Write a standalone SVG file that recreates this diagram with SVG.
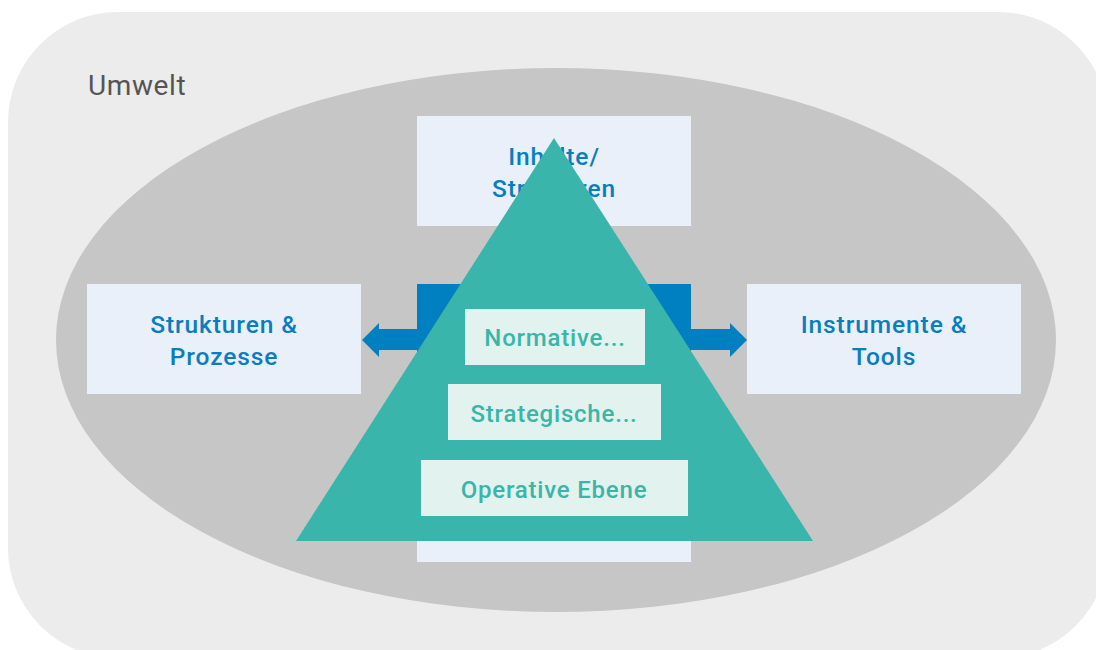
<svg xmlns="http://www.w3.org/2000/svg" width="1096" height="650" viewBox="0 0 1096 650">
<style>
.box{fill:#e9f0fa}
.lvl{fill:#e2f2ef}
.bt{font-family:Roboto,"Liberation Sans",sans-serif;font-size:24.5px;letter-spacing:0.9px;fill:#0a7dc0;text-anchor:middle;font-weight:500}
.tt{font-family:Roboto,"Liberation Sans",sans-serif;font-size:24px;letter-spacing:0.8px;fill:#3ab5a8;text-anchor:middle;font-weight:500}
</style>
<rect x="8" y="12" width="1100" height="646" rx="110" ry="110" fill="#ececec"/>
<text x="88" y="95" font-family="Roboto,'Liberation Sans',sans-serif" font-size="28" letter-spacing="0.6" fill="#555555">Umwelt</text>
<ellipse cx="556" cy="340" rx="500" ry="272" fill="#c6c6c6"/>
<g id="inhalte"><rect class="box" x="417" y="116" width="274" height="110"/><text class="bt" x="554" y="165">Inhalte/</text><text class="bt" x="554" y="197">Strukturen</text></g>
<g id="strukturen"><rect class="box" x="87" y="284" width="274" height="110"/><text class="bt" x="224" y="333">Strukturen &amp;</text><text class="bt" x="224" y="365">Prozesse</text></g>
<g id="instrumente"><rect class="box" x="747" y="284" width="274" height="110"/><text class="bt" x="884" y="333">Instrumente &amp;</text><text class="bt" x="884" y="365">Tools</text></g>
<g id="unten"><rect class="box" x="417" y="452" width="274" height="110"/></g>
<g id="connectors"><path d="M417 284 H691 V329 H730 V323 L747 340 L730 357 V350 H691 V400 H417 V350 H379 V357 L362 340 L379 323 V329 H417 Z" fill="#0080c0"/></g>
<g id="pyramide">
<polygon points="554,138 813,541 296,541" fill="#3ab5ab"/>
<g id="normativ"><rect class="lvl" x="465" y="309" width="180" height="56"/><text class="tt" x="555" y="346">Normative...</text></g>
<g id="strategisch"><rect class="lvl" x="448" y="384" width="213" height="56"/><text class="tt" x="554" y="422">Strategische...</text></g>
<g id="operativ"><rect class="lvl" x="421" y="460" width="267" height="56"/><text class="tt" x="554" y="498">Operative Ebene</text></g>
</g>
</svg>
